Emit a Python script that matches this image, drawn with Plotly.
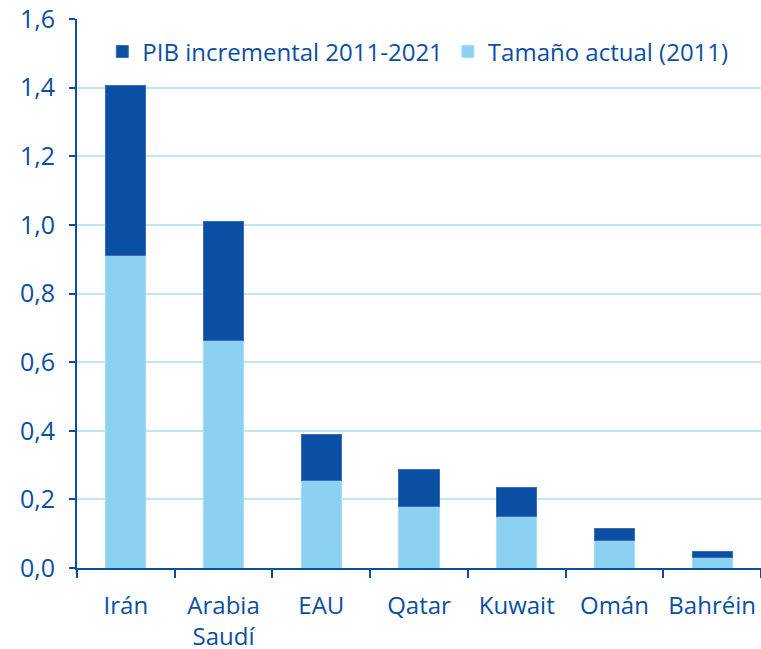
import plotly.graph_objects as go

categories = ["Irán", "Arabia<br>Saudí", "EAU", "Qatar", "Kuwait", "Omán", "Bahréin"]
tamano_2011 = [0.912, 0.662, 0.255, 0.178, 0.149, 0.079, 0.032]
total_2021 = [1.407, 1.010, 0.388, 0.286, 0.236, 0.114, 0.047]
incremental = [round(t - b, 3) for t, b in zip(total_2021, tamano_2011)]

DARK = "#0a4fa3"
LIGHT = "#8bd2f2"
TXT = "#0b4fa2"
FONT = "Open Sans"

fig = go.Figure()
fig.add_trace(go.Bar(x=categories, y=tamano_2011, name="Tamaño actual (2011)",
                     marker=dict(color=LIGHT, line=dict(color="#a9dcf5", width=1)), width=0.41))
fig.add_trace(go.Bar(x=categories, y=incremental, name="PIB incremental 2011-2021",
                     marker=dict(color=DARK, line=dict(color="#3a6fb5", width=1)), width=0.41))

fig.update_layout(
    barmode="stack",
    width=761, height=649,
    margin=dict(l=77, r=0, t=19, b=81),
    plot_bgcolor="white", paper_bgcolor="white",
    separators=",.",
    font=dict(family=FONT, color=TXT, size=24),
    legend=dict(orientation="h", traceorder="reversed", x=0.037, y=0.94,
                xanchor="left", yanchor="middle", font=dict(size=24, color=TXT),
                bgcolor="rgba(0,0,0,0)"),
    showlegend=True,
)
fig.update_yaxes(range=[0, 1.6], dtick=0.2, tickformat=".1f", automargin=False,
                 showgrid=True, gridcolor="#bfe6f8", gridwidth=2,
                 showline=True, linecolor=TXT, linewidth=2,
                 ticks="outside", ticklen=6, tickcolor=TXT, tickwidth=2,
                 ticklabelstandoff=9,
                 tickfont=dict(size=25, color=TXT), zeroline=False)
fig.update_xaxes(showline=True, linecolor=TXT, linewidth=2, automargin=False,
                 ticks="outside", tickson="boundaries", ticklen=8, tickcolor=TXT, tickwidth=2,
                 ticklabelstandoff=15, tickangle=0,
                 showgrid=False, tickfont=dict(size=24, color=TXT))

fig.write_html("out.html", config={"displayModeBar": False},
               post_script="document.body.style.margin='0';document.body.style.padding='0';")
